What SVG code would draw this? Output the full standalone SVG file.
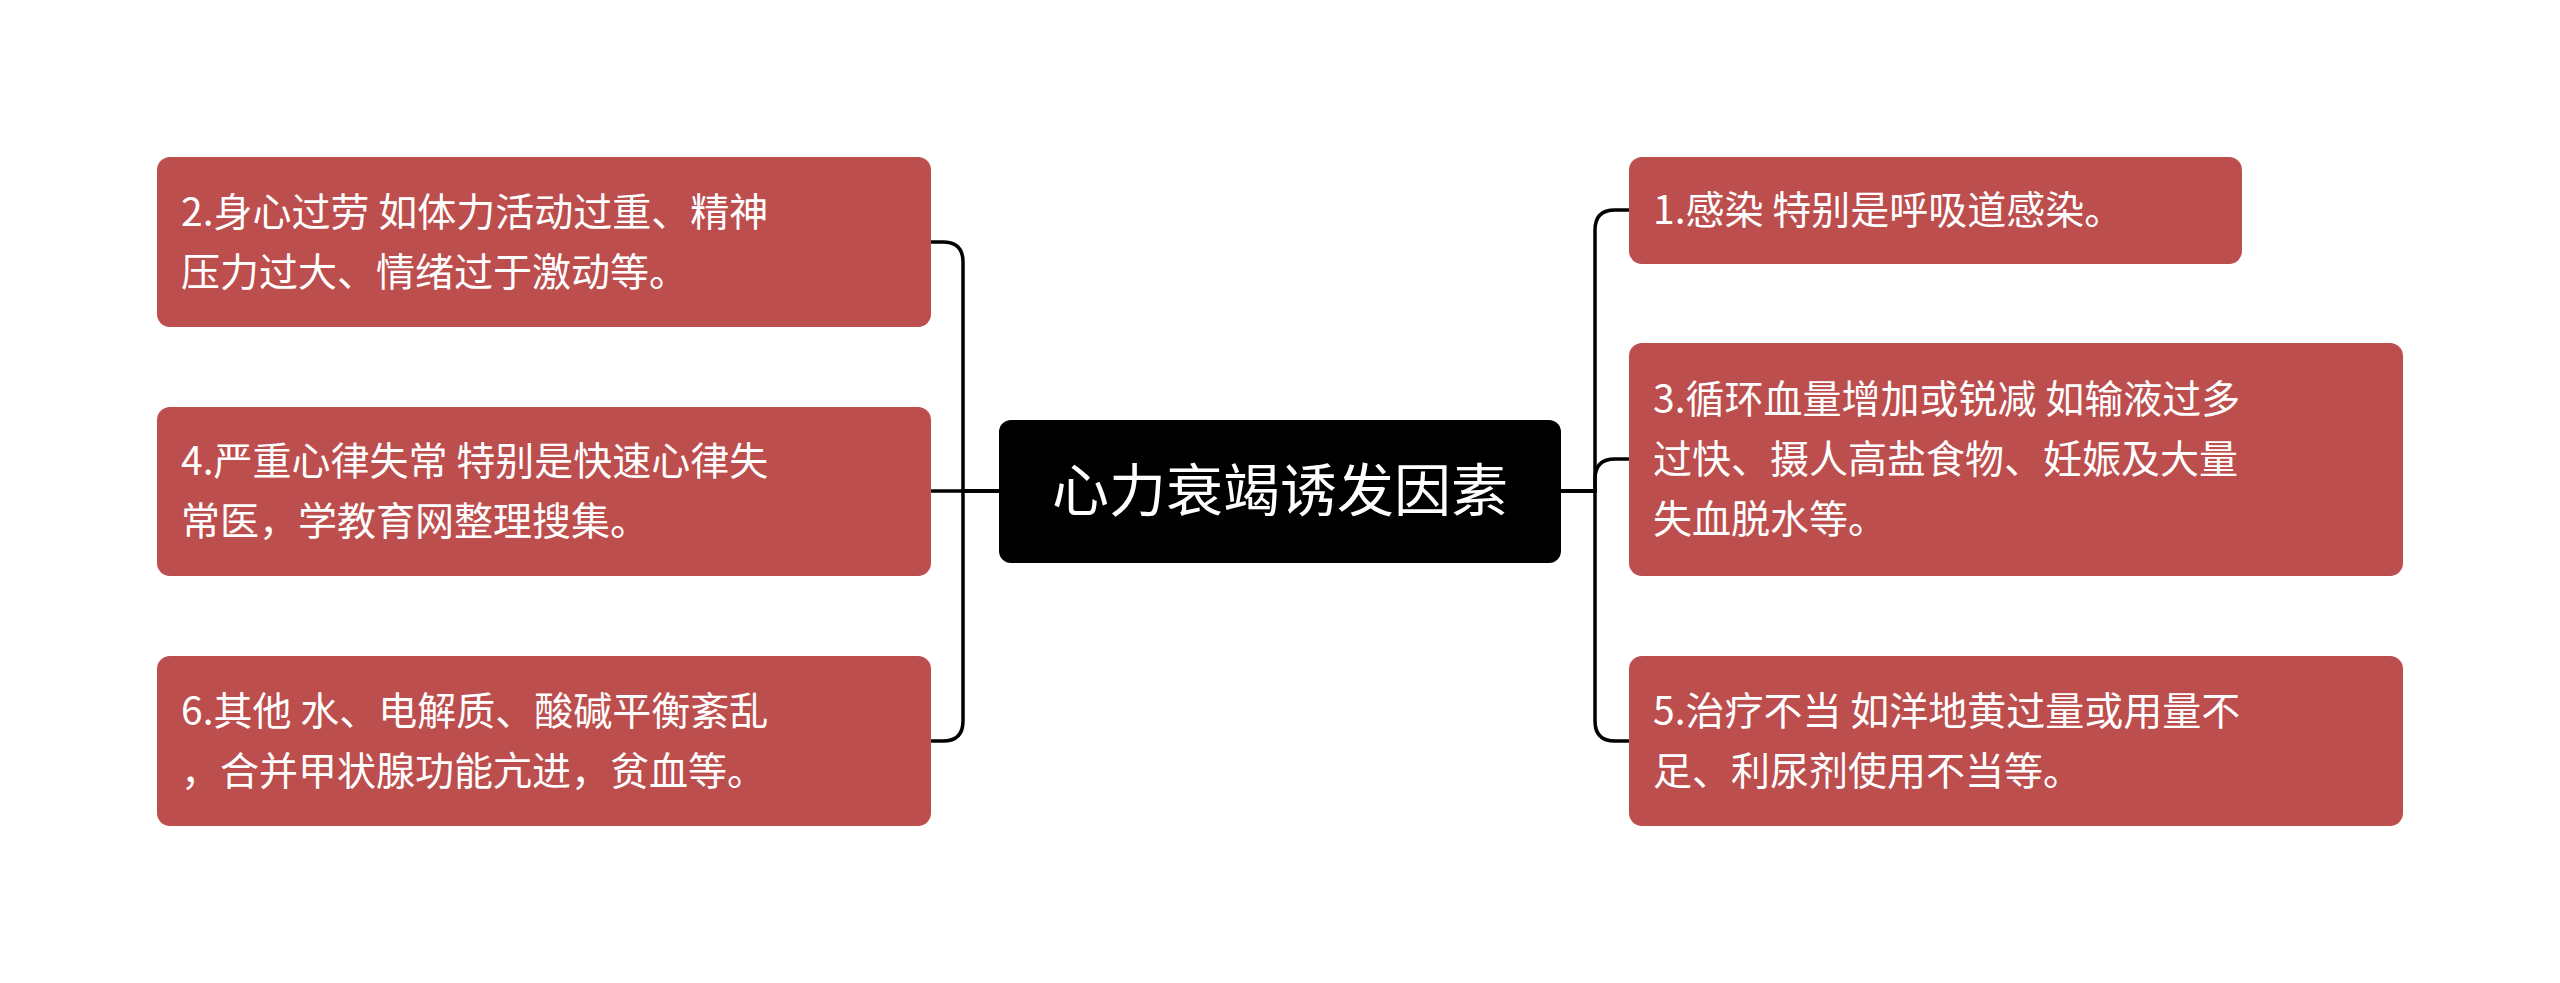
<svg xmlns="http://www.w3.org/2000/svg" width="2560" height="983" viewBox="0 0 2560 983">
<style>
.n{fill:#BD4E4E;}
.t{fill:#fff;font-family:"Noto Sans CJK SC",sans-serif;font-size:39px;}
.c{fill:none;stroke:#000;stroke-width:3.5;}
</style>
<rect width="2560" height="983" fill="#fff"/>
<g id="connectors">
<path class="c" d="M999,491 H963 V262 Q963,242 943,242 H931"/>
<path class="c" d="M999,491 H931"/>
<path class="c" d="M999,491 H963 V721 Q963,741 943,741 H931"/>
<path class="c" d="M1561,491 H1595 V230 Q1595,210 1615,210 H1629"/>
<path class="c" d="M1561,491 H1595 V479 Q1595,459 1615,459 H1629"/>
<path class="c" d="M1561,491 H1595 V721 Q1595,741 1615,741 H1629"/>
</g>
<g id="center"><rect x="999" y="420" width="562" height="143" rx="12" fill="#000"/>
<text x="1280" y="511" text-anchor="middle" class="t" style="font-size:57px">心力衰竭诱发因素</text></g>
<g id="n2"><rect class="n" x="157" y="157" width="774" height="170" rx="13"/>
<text class="t" x="181" y="226">2.身心过劳 如体力活动过重、精神</text><text class="t" x="181" y="286">压力过大、情绪过于激动等。</text></g>
<g id="n4"><rect class="n" x="157" y="407" width="774" height="169" rx="13"/>
<text class="t" x="181" y="475">4.严重心律失常 特别是快速心律失</text><text class="t" x="181" y="535">常医，学教育网整理搜集。</text></g>
<g id="n6"><rect class="n" x="157" y="656" width="774" height="170" rx="13"/>
<text class="t" x="181" y="725">6.其他 水、电解质、酸碱平衡紊乱</text><text class="t" x="181" y="785">，合并甲状腺功能亢进，贫血等。</text></g>
<g id="n1"><rect class="n" x="1629" y="157" width="613" height="107" rx="13"/>
<text class="t" x="1653" y="224">1.感染 特别是呼吸道感染。</text></g>
<g id="n3"><rect class="n" x="1629" y="343" width="774" height="233" rx="13"/>
<text class="t" x="1653" y="413">3.循环血量增加或锐减 如输液过多</text><text class="t" x="1653" y="473">过快、摄人高盐食物、妊娠及大量</text><text class="t" x="1653" y="533">失血脱水等。</text></g>
<g id="n5"><rect class="n" x="1629" y="656" width="774" height="170" rx="13"/>
<text class="t" x="1653" y="725">5.治疗不当 如洋地黄过量或用量不</text><text class="t" x="1653" y="785">足、利尿剂使用不当等。</text></g>
</svg>
